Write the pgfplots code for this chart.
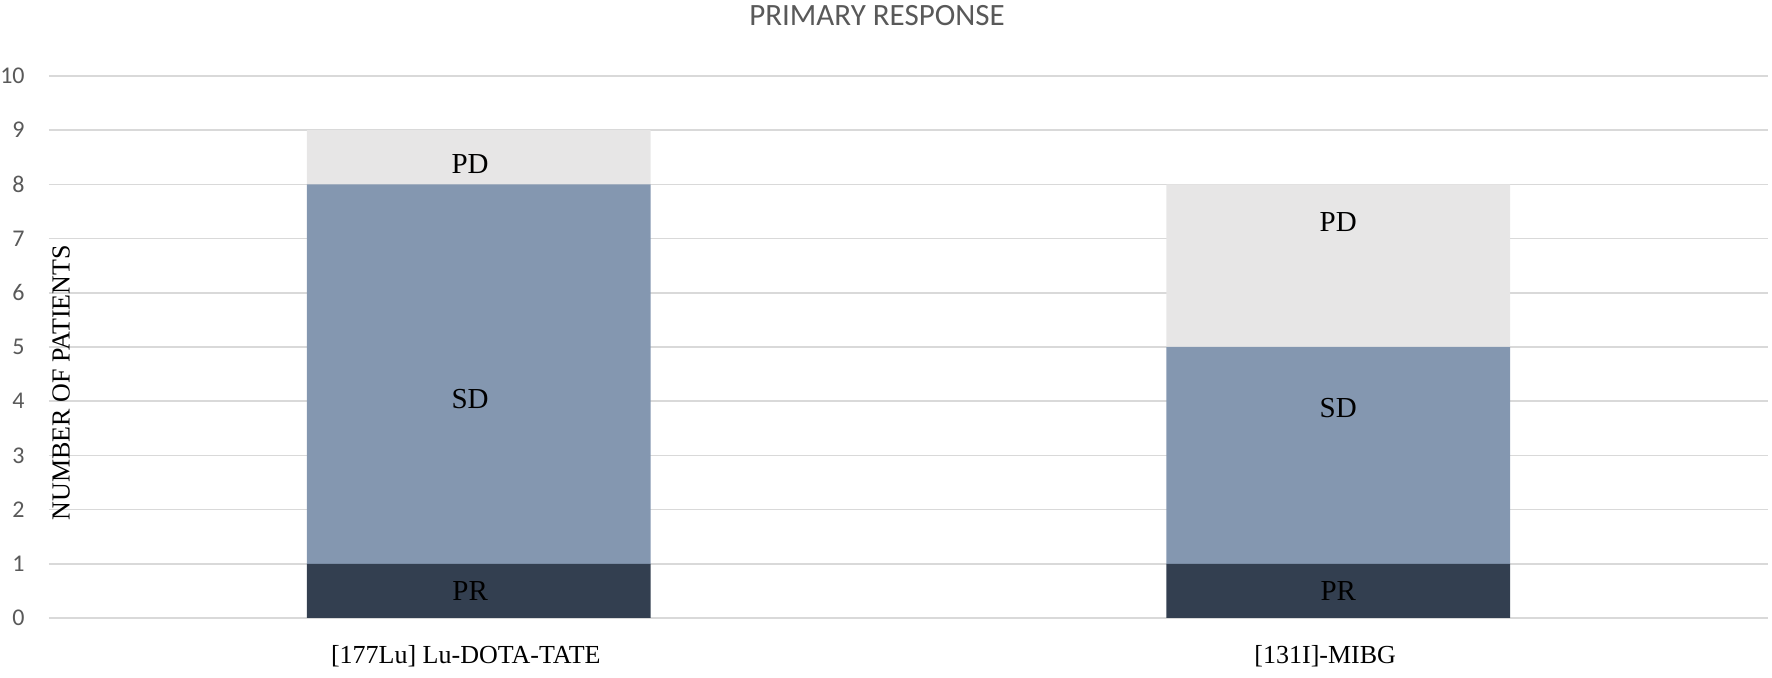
\documentclass[border=0pt]{standalone}
\usepackage{fontspec}
\setmainfont{Liberation Serif}
\newfontfamily\calibri{Carlito}
\usepackage{pgfplots}
\pgfplotsset{compat=1.18}
\definecolor{cPD}{HTML}{E7E6E6}
\definecolor{cSD}{HTML}{8497B0}
\definecolor{cPR}{HTML}{333F50}
\definecolor{cgrid}{HTML}{D9D9D9}
\definecolor{ctext}{HTML}{595959}
\begin{document}
\begin{tikzpicture}
\begin{axis}[
  at={(0pt,0pt)}, anchor=south west,
  scale only axis, width=859.5pt, height=271pt,
  xmin=-0.5, xmax=1.5, ymin=0, ymax=10,
  ybar stacked, bar width=0.4,
  xtick={0,1}, xticklabels={{[177Lu] Lu-DOTA-TATE},{[131I]-MIBG}},
  ytick={0,1,...,10},
  axis line style={draw=none}, tick style={draw=none},
  ymajorgrids, grid style={cgrid, line width=0.75pt},
  /pgf/number format/assume math mode=true,
  yticklabel style={font=\calibri\fontsize{12}{14}\selectfont, text=ctext, anchor=east, inner sep=0pt, xshift=-12pt},
  xticklabel style={font=\fontsize{13}{15}\selectfont, text=black, anchor=north, inner sep=0pt, yshift=-13.5pt, xshift=-6.5pt},
  ylabel={NUMBER OF PATIENTS},
  ylabel style={font=\fontsize{13}{15}\selectfont, at={(rel axis cs:0.007,0.434)}, anchor=center, rotate=0},
]
\addplot[fill=cPR, draw=none] coordinates {(0,1) (1,1)};
\addplot[fill=cSD, draw=none] coordinates {(0,7) (1,4)};
\addplot[fill=cPD, draw=none] coordinates {(0,1) (1,3)};
\coordinate (pd1) at (axis cs:-0.01,8.38);
\coordinate (sd1) at (axis cs:-0.01,4.04);
\coordinate (pr1) at (axis cs:-0.01,0.5);
\coordinate (pd2) at (axis cs:1,7.31);
\coordinate (sd2) at (axis cs:1,3.87);
\coordinate (pr2) at (axis cs:1,0.5);
\end{axis}
\node[font=\fontsize{14.5}{17}\selectfont] at (pd1) {PD};
\node[font=\fontsize{14.5}{17}\selectfont] at (sd1) {SD};
\node[font=\fontsize{14.5}{17}\selectfont] at (pr1) {PR};
\node[font=\fontsize{14.5}{17}\selectfont] at (pd2) {PD};
\node[font=\fontsize{14.5}{17}\selectfont] at (sd2) {SD};
\node[font=\fontsize{14.5}{17}\selectfont] at (pr2) {PR};
\node[font=\calibri\fontsize{15.5}{18}\selectfont, text=ctext] at (414pt,301pt) {PRIMARY RESPONSE};
\pgfresetboundingbox
\path[use as bounding box] (-24.5pt,-30pt) rectangle (861.5pt,309pt);
\end{tikzpicture}
\end{document}
